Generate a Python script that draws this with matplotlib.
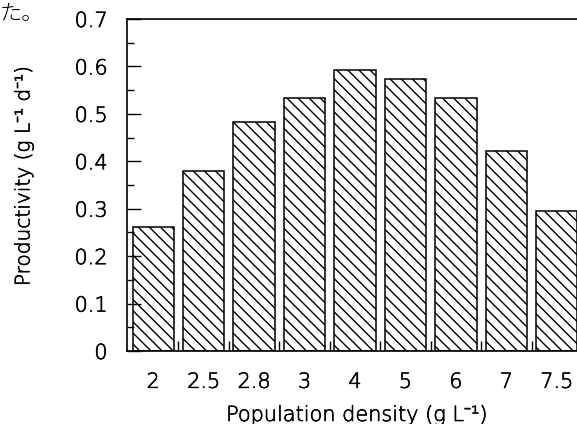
import matplotlib
matplotlib.use("Agg")
import matplotlib.pyplot as plt
import matplotlib.patheffects as pe
from matplotlib.ticker import MultipleLocator, FixedLocator, FuncFormatter

plt.rcParams['font.family'] = ['DejaVu Sans', 'Noto Sans', 'Noto Sans CJK JP']
plt.rcParams['font.weight'] = 'light'
plt.rcParams['hatch.linewidth'] = 1.0

categories = ["2", "2.5", "2.8", "3", "4", "5", "6", "7", "7.5"]
productivity = [0.262, 0.380, 0.483, 0.534, 0.593, 0.574, 0.534, 0.422, 0.295]
yticks = [0, 0.1, 0.2, 0.3, 0.4, 0.5, 0.6, 0.7]

W, H = 577, 424
fig = plt.figure(figsize=(W / 100, H / 100), dpi=100)
ax = fig.add_axes([127 / W, 1 - 351 / H, 460 / W, 332 / H])

x = list(range(len(categories)))
ax.bar(x, productivity, width=0.82, color='white', edgecolor='black',
       linewidth=1.1, hatch='\\\\\\')

ax.set_xlim(-0.52, 8.6)
ax.set_ylim(0, 0.7)

thick = [pe.withStroke(linewidth=0.45, foreground='black')]

ax.set_yticks(yticks)
ax.yaxis.set_major_formatter(FuncFormatter(lambda v, p: "0" if abs(v) < 1e-9 else f"{v:.1f}"))
ax.yaxis.set_minor_locator(MultipleLocator(0.05))
ax.tick_params(axis='y', which='major', direction='in', length=10, width=1.0,
               pad=14, labelsize=15, colors='black')
ax.tick_params(axis='y', which='minor', direction='in', length=5, width=1.0)

ax.set_xticks(x)
ax.set_xticklabels(categories)
ax.tick_params(axis='x', which='major', length=0, pad=15, labelsize=15)
ax.xaxis.set_minor_locator(FixedLocator([i + 0.5 for i in x[:-1]]))
ax.tick_params(axis='x', which='minor', direction='in', length=7, width=1.0)

for lbl in ax.get_xticklabels() + ax.get_yticklabels():
    lbl.set_path_effects(thick)

for s in ['left', 'bottom', 'top']:
    ax.spines[s].set_linewidth(1.2)
ax.spines['right'].set_visible(False)

fig.text(357 / W, 3 / H, "Population density (g L\u207b\u00b9)",
         fontsize=15, ha='center', va='baseline', color='black', path_effects=thick)
fig.text(24 / W, 1 - 176 / H, "Productivity (g L\u207b\u00b9 d\u207b\u00b9)",
         fontsize=14.5, ha='center', va='center', rotation=90, color='black',
         path_effects=thick)

fig.text(0.0, 1 - 3 / H, "た。", fontsize=16, va='top', ha='left',
         family=['Noto Sans CJK JP', 'DejaVu Sans'], color='black')

fig.savefig("out.png", dpi=100)
